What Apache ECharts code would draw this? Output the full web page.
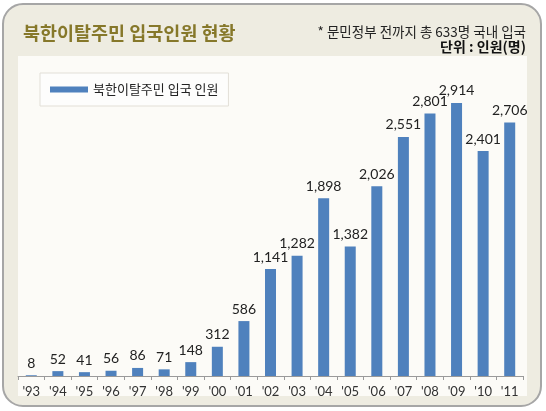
<!DOCTYPE html>
<html><head><meta charset="utf-8">
<script src="https://cdn.jsdelivr.net/npm/echarts@6/dist/echarts.min.js"></script>
<style>html,body{margin:0;padding:0;background:#fff}#c{width:546px;height:411px}</style>
</head><body><div id="c"></div>
<script>
const categories = ["'93","'94","'95","'96","'97","'98","'99","'00","'01","'02","'03","'04","'05","'06","'07","'08","'09","'10","'11"];
const arrivals = [8,52,41,56,86,71,148,312,586,1141,1282,1898,1382,2026,2551,2801,2914,2401,2706];
const seriesName = '북한이탈주민 입국 인원';
const titleText = '북한이탈주민 입국인원 현황';
const noteText = '* 문민정부 전까지 총 633명 국내 입국';
const unitText = '단위 : 인원(명)';

const KR = '"Noto Sans CJK KR"';
const chart = echarts.init(document.getElementById('c'), null, {renderer:'canvas'});
chart.setOption({
  backgroundColor: '#ffffff',
  animation: false,
  graphic: [
    {type:'rect', z:-10, shape:{x:3,y:4,width:538,height:402,r:20}, style:{fill:'#eeece1', stroke:'#a6a6a6', lineWidth:2}},
    {type:'rect', z:-9, shape:{x:18,y:56,width:509,height:340}, style:{fill:'#fcfbf7'}},
    {type:'text', z:5, x:23, y:33, style:{text:titleText, font:'bold 18.5px '+KR, fill:'#86782a', verticalAlign:'middle', textAlign:'left'}},
    {type:'text', z:5, x:526, y:32, style:{text:noteText, font:'13.5px '+KR, fill:'#222', verticalAlign:'middle', textAlign:'right'}},
    {type:'text', z:5, x:526, y:47, style:{text:unitText, font:'bold 14px '+KR, fill:'#111', verticalAlign:'middle', textAlign:'right'}}
  ],
  legend: {
    left: 40, top: 73, icon: 'rect', itemWidth: 38, itemHeight: 6,
    padding: [10, 10, 10, 10], borderColor: '#e2dfd7', borderWidth: 1, backgroundColor: '#fdfdfc',
    textStyle: {fontFamily: KR, fontSize: 13, color: '#222'},
    data: [seriesName]
  },
  grid: {left: 18, right: 23, top: 48, bottom: 35, containLabel: false},
  xAxis: {
    type: 'category', data: categories,
    axisLine: {lineStyle: {color: '#9a9a9a', width: 1}},
    axisTick: {show: true, length: 4, lineStyle: {color: '#9a9a9a'}},
    axisLabel: {fontFamily: 'Lato', fontSize: 13, color: '#333', margin: 9}
  },
  yAxis: {type: 'value', min: 0, max: 3500, show: false, splitLine: {show: false}},
  series: [{
    name: seriesName, type: 'bar', data: arrivals, barWidth: 11,
    itemStyle: {color: '#4f81bd'},
    label: {show: true, position: 'top', distance: 5, fontFamily: 'Lato', fontSize: 14, color: '#222',
      formatter: p => p.value.toLocaleString('en-US')}
  }]
});
</script></body></html>
